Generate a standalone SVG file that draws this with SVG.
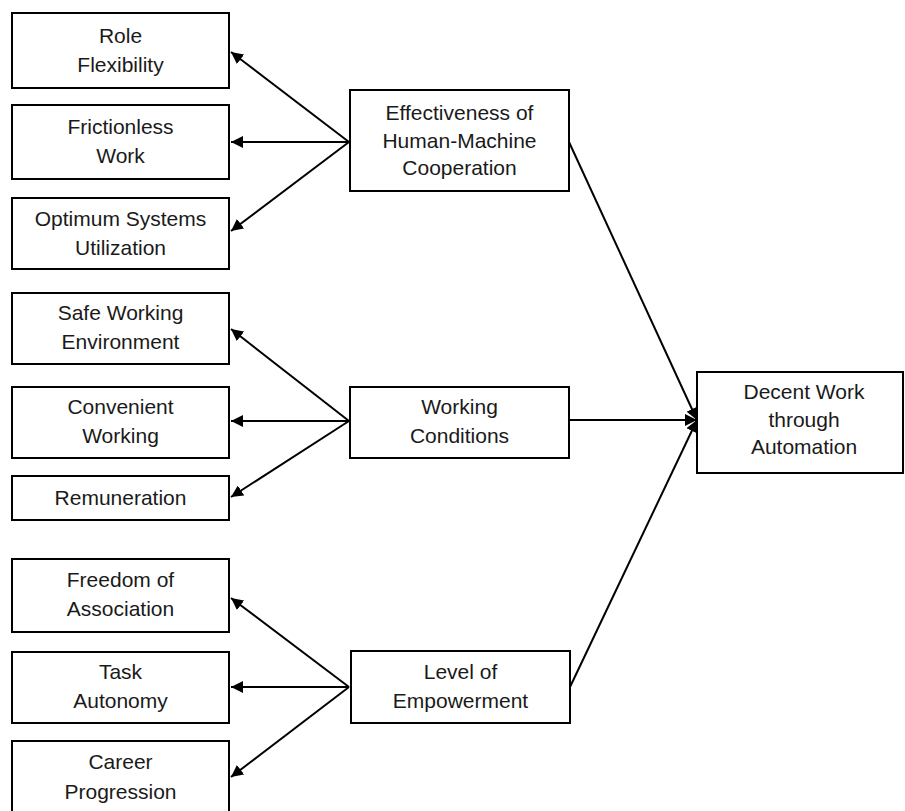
<svg xmlns="http://www.w3.org/2000/svg" width="905" height="811" viewBox="0 0 905 811">
<style>
.box{fill:#fff;stroke:#000;stroke-width:2}
.t{font-family:"Liberation Sans",Arial,sans-serif;font-size:21px;fill:#1a1a1a;text-anchor:middle}
.c{stroke:#000;stroke-width:2;fill:none;marker-end:url(#ah)}
</style>
<defs>
<marker id="ah" markerUnits="userSpaceOnUse" markerWidth="14" markerHeight="12" refX="12" refY="6" orient="auto">
<path d="M0,0 L12,6 L0,12 Z" fill="#000"/>
</marker>
</defs>
<rect width="905" height="811" fill="#fff"/>
<g id="connectors">
<line class="c" x1="349" y1="142" x2="231" y2="52"/>
<line class="c" x1="349" y1="142" x2="231" y2="142"/>
<line class="c" x1="349" y1="142" x2="231" y2="231"/>
<line class="c" x1="349" y1="421" x2="231" y2="329"/>
<line class="c" x1="349" y1="421" x2="231" y2="421"/>
<line class="c" x1="349" y1="421" x2="231" y2="497"/>
<line class="c" x1="349" y1="687" x2="231" y2="598"/>
<line class="c" x1="349" y1="687" x2="231" y2="687"/>
<line class="c" x1="349" y1="687" x2="231" y2="777"/>
<line class="c" x1="569" y1="142" x2="697" y2="420"/>
<line class="c" x1="569" y1="420" x2="697" y2="420"/>
<line class="c" x1="570" y1="687" x2="697" y2="420"/>
</g>
<g id="role-flexibility"><rect class="box" x="12" y="13" width="217" height="75"/><text class="t" x="120.5" y="43">Role</text><text class="t" x="120.5" y="72">Flexibility</text></g>
<g id="frictionless-work"><rect class="box" x="12" y="105" width="217" height="74"/><text class="t" x="120.5" y="134">Frictionless</text><text class="t" x="120.5" y="163">Work</text></g>
<g id="optimum-systems"><rect class="box" x="12" y="198" width="217" height="71"/><text class="t" x="120.5" y="226">Optimum Systems</text><text class="t" x="120.5" y="255">Utilization</text></g>
<g id="safe-working"><rect class="box" x="12" y="293" width="217" height="71"/><text class="t" x="120.5" y="320">Safe Working</text><text class="t" x="120.5" y="349">Environment</text></g>
<g id="convenient-working"><rect class="box" x="12" y="387" width="217" height="71"/><text class="t" x="120.5" y="414">Convenient</text><text class="t" x="120.5" y="443">Working</text></g>
<g id="remuneration"><rect class="box" x="12" y="476" width="217" height="44"/><text class="t" x="120.5" y="505">Remuneration</text></g>
<g id="freedom-association"><rect class="box" x="12" y="559" width="217" height="73"/><text class="t" x="120.5" y="587">Freedom of</text><text class="t" x="120.5" y="616">Association</text></g>
<g id="task-autonomy"><rect class="box" x="12" y="652" width="217" height="71"/><text class="t" x="120.5" y="679">Task</text><text class="t" x="120.5" y="708">Autonomy</text></g>
<g id="career-progression"><rect class="box" x="12" y="741" width="217" height="80"/><text class="t" x="120.5" y="769">Career</text><text class="t" x="120.5" y="799">Progression</text></g>
<g id="effectiveness"><rect class="box" x="350" y="90" width="219" height="101"/><text class="t" x="459.5" y="120">Effectiveness of</text><text class="t" x="459.5" y="148">Human-Machine</text><text class="t" x="459.5" y="175">Cooperation</text></g>
<g id="working-conditions"><rect class="box" x="350" y="387" width="219" height="71"/><text class="t" x="459.5" y="414">Working</text><text class="t" x="459.5" y="443">Conditions</text></g>
<g id="level-empowerment"><rect class="box" x="351" y="651" width="219" height="72"/><text class="t" x="460.5" y="679">Level of</text><text class="t" x="460.5" y="708">Empowerment</text></g>
<g id="decent-work"><rect class="box" x="697" y="372" width="206" height="101"/><text class="t" x="804" y="399">Decent Work</text><text class="t" x="804" y="427">through</text><text class="t" x="804" y="454">Automation</text></g>
</svg>
